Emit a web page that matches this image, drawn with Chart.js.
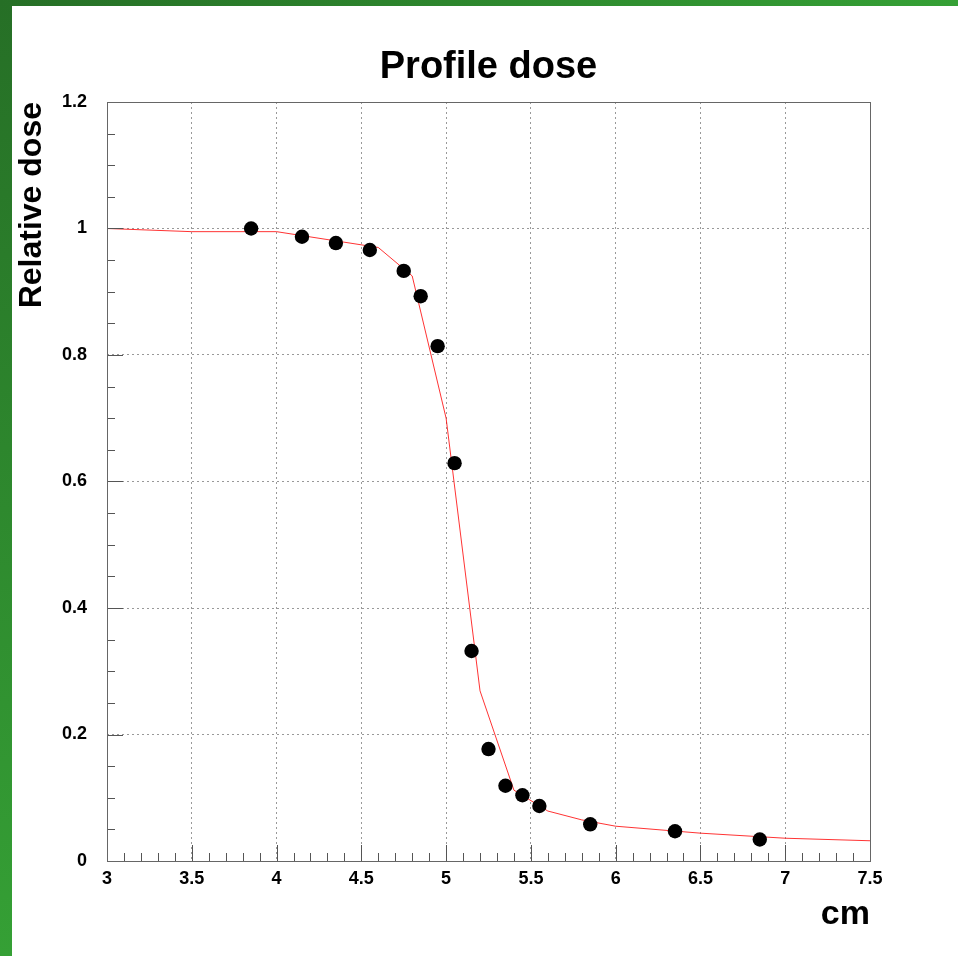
<!DOCTYPE html>
<html>
<head>
<meta charset="utf-8">
<script src="https://cdn.jsdelivr.net/npm/chart.js@4/dist/chart.umd.min.js"></script>
<style>
  html, body { margin: 0; padding: 0; }
  body {
    width: 958px; height: 956px; position: relative; background: #fff; overflow: hidden;
  }
  #leftbar { position: absolute; left: 0; top: 0; width: 12px; height: 956px;
    background: linear-gradient(to bottom, #266f26, #35a035); }
  #topbar { position: absolute; left: 0; top: 0; width: 958px; height: 6px;
    background: linear-gradient(to right, #266f26, #35a035); }
  #wrap { position: absolute; left: 0; top: 0; width: 958px; height: 956px; }
</style>
</head>
<body>
<div id="leftbar"></div>
<div id="topbar"></div>
<div id="wrap"><canvas id="c" width="958" height="956"></canvas></div>
<script>
// Measured points (black markers)
const pointX = [3.85, 4.15, 4.35, 4.55, 4.75, 4.85, 4.95, 5.05, 5.15, 5.25, 5.35, 5.45, 5.55, 5.85, 6.35, 6.85];
const pointY = [1.0, 0.987, 0.977, 0.966, 0.933, 0.893, 0.814, 0.629, 0.332, 0.177, 0.119, 0.104, 0.087, 0.058, 0.047, 0.034];
// Reference curve (red line)
const curveX = [3.0, 3.5, 4.0, 4.6, 4.8, 5.0, 5.2, 5.4, 5.6, 5.8, 6.0, 6.5, 7.0, 7.5];
const curveY = [1.0, 0.995, 0.995, 0.970, 0.925, 0.70, 0.269, 0.112, 0.079, 0.065, 0.055, 0.044, 0.036, 0.032];
// Axes
const xMin = 3, xMax = 7.5, xStep = 0.5, xMinorStep = 0.1;
const yMin = 0, yMax = 1.2, yStep = 0.2, yMinorStep = 0.05;
const titleText = 'Profile dose';
const xTitle = 'cm';
const yTitle = 'Relative dose';

const FONT = "'Liberation Sans', Arial, Helvetica, sans-serif";

const pointData = pointX.map((x, i) => ({x, y: pointY[i]}));
const curveData = curveX.map((x, i) => ({x, y: curveY[i]}));

const framePlugin = {
  id: 'rootFrame',
  afterDraw(chart) {
    const {ctx, chartArea: a, scales: {x, y}} = chart;
    ctx.save();
    ctx.strokeStyle = '#555';
    ctx.lineWidth = 1;
    // inside ticks on x axis
    const nx = Math.round((xMax - xMin) / xMinorStep);
    for (let i = 0; i <= nx; i++) {
      const v = xMin + i * xMinorStep;
      const px = Math.round(x.getPixelForValue(v)) + 0.5;
      const major = (i % Math.round(xStep / xMinorStep)) === 0;
      const len = major ? 16 : 8;
      ctx.beginPath();
      ctx.moveTo(px, a.bottom);
      ctx.lineTo(px, a.bottom - len);
      ctx.stroke();
    }
    const ny = Math.round((yMax - yMin) / yMinorStep);
    for (let i = 0; i <= ny; i++) {
      const v = yMin + i * yMinorStep;
      const py = Math.round(y.getPixelForValue(v)) + 0.5;
      const major = (i % Math.round(yStep / yMinorStep)) === 0;
      const len = major ? 16 : 8;
      ctx.beginPath();
      ctx.moveTo(a.left, py);
      ctx.lineTo(a.left + len, py);
      ctx.stroke();
    }
    // frame
    ctx.strokeStyle = '#666';
    ctx.strokeRect(Math.round(a.left) + 0.5, Math.round(a.top) + 0.5,
                   Math.round(a.right - a.left), Math.round(a.bottom - a.top));
    // title, centred over the plot area
    ctx.fillStyle = '#000';
    ctx.font = "bold 38px " + FONT;
    ctx.textAlign = 'center';
    ctx.textBaseline = 'alphabetic';
    ctx.fillText(titleText, (a.left + a.right) / 2, 78);
    ctx.restore();
  }
};

new Chart(document.getElementById('c'), {
  type: 'scatter',
  data: {
    datasets: [
      {
        label: 'Measured',
        data: pointData,
        backgroundColor: '#000',
        borderColor: '#000',
        borderWidth: 0,
        pointRadius: 7.2,
        pointHoverRadius: 7.2,
        showLine: false
      },
      {
        label: 'Curve',
        data: curveData,
        showLine: true,
        borderColor: 'rgba(255,0,0,0.8)',
        borderWidth: 1,
        pointRadius: 0,
        tension: 0,
        fill: false
      }
    ]
  },
  plugins: [framePlugin],
  options: {
    responsive: false,
    animation: false,
    events: [],
    layout: { padding: { left: 0, right: 88, top: 102, bottom: 0 } },
    plugins: {
      legend: { display: false },
      tooltip: { enabled: false },
      title: { display: false }
    },
    scales: {
      x: {
        type: 'linear',
        min: xMin, max: xMax,
        afterFit(s) { s.height = 95; },
        afterBuildTicks(s) {
          const t = [];
          for (let v = xMin; v <= xMax + 1e-9; v += xStep) t.push({value: +v.toFixed(2)});
          s.ticks = t;
        },
        ticks: {
          color: '#000',
          font: { family: FONT, size: 18, weight: 'bold' },
          padding: 7,
          maxRotation: 0,
          autoSkip: false,
          callback: v => String(+v.toFixed(2))
        },
        grid: { color: '#999', lineWidth: 1, drawTicks: false },
        border: { display: false, dash: [2, 3] },
        title: {
          display: true, text: xTitle, align: 'end', color: '#000',
          font: { family: FONT, size: 34, weight: 'bold', lineHeight: 1.2 },
          padding: { top: 0, bottom: 21 }
        }
      },
      y: {
        type: 'linear',
        min: yMin, max: yMax,
        afterFit(s) { s.width = 107; },
        afterBuildTicks(s) {
          const t = [];
          for (let v = yMin; v <= yMax + 1e-9; v += yStep) t.push({value: +v.toFixed(2)});
          s.ticks = t;
        },
        ticks: {
          color: '#000',
          font: { family: FONT, size: 18, weight: 'bold' },
          padding: 20,
          autoSkip: false,
          callback: v => String(+v.toFixed(2))
        },
        grid: { color: '#999', lineWidth: 1, drawTicks: false },
        border: { display: false, dash: [2, 3] },
        title: {
          display: true, text: yTitle, align: 'end', color: '#000',
          font: { family: FONT, size: 32, weight: 'bold', lineHeight: 1.2 },
          padding: { top: 13, bottom: 0 }
        }
      }
    }
  }
});
</script>
</body>
</html>
